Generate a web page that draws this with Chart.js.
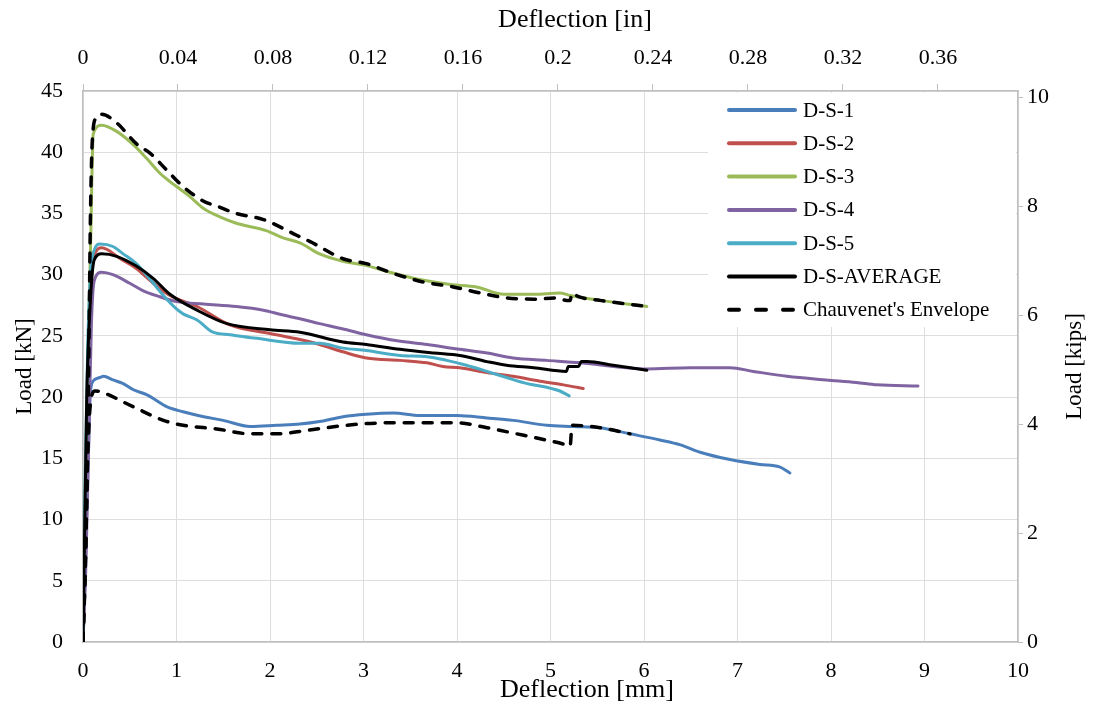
<!DOCTYPE html>
<html>
<head>
<meta charset="utf-8">
<script src="https://cdn.jsdelivr.net/npm/chart.js@4.4.1/dist/chart.umd.min.js"></script>
<style>
  html, body { margin: 0; padding: 0; background: #fff; }
  #wrap { width: 1094px; height: 713px; position: relative; }
</style>
</head>
<body>
<div id="wrap"><canvas id="chart"></canvas></div>
<script>
// Deflection [mm] / Load [kN]
const ds1X = [0, 0.03, 0.06, 0.08, 0.12, 0.18, 0.22, 0.32, 0.43, 0.54, 0.68, 0.9, 1.07, 1.29, 1.5, 1.79, 2.07, 2.32, 2.53, 2.78, 3.03, 3.32, 3.6, 4.0, 4.32, 4.6, 4.96, 5.24, 5.53, 5.85, 6.17, 6.39, 6.6, 6.92, 7.24, 7.45, 7.56];
const ds1Y = [0, 8, 16, 20.5, 21.4, 21.6, 21.7, 21.4, 21.1, 20.6, 20.2, 19.2, 18.8, 18.4, 18.1, 17.6, 17.7, 17.8, 18.0, 18.4, 18.6, 18.7, 18.5, 18.5, 18.3, 18.1, 17.7, 17.6, 17.5, 17.0, 16.5, 16.1, 15.5, 14.9, 14.5, 14.3, 13.8];

const ds2X = [0, 0.03, 0.05, 0.08, 0.12, 0.2, 0.4, 0.57, 0.75, 0.93, 1.22, 1.57, 2.0, 2.32, 2.53, 2.78, 3.03, 3.39, 3.68, 3.85, 4.03, 4.32, 4.6, 4.89, 5.14, 5.35];
const ds2Y = [0, 8, 18, 28, 31.5, 32.2, 31.3, 30.5, 29.3, 28.3, 27.4, 25.9, 25.2, 24.7, 24.3, 23.7, 23.2, 23.0, 22.8, 22.5, 22.4, 22.0, 21.7, 21.3, 21.0, 20.7];

const ds3X = [0, 0.02, 0.05, 0.08, 0.11, 0.2, 0.36, 0.54, 0.68, 0.82, 0.93, 1.0, 1.14, 1.29, 1.47, 1.64, 1.96, 2.14, 2.32, 2.53, 2.78, 3.0, 3.28, 3.6, 3.93, 4.21, 4.5, 4.82, 5.1, 5.21, 5.53, 6.03];
const ds3Y = [0, 10, 22, 32, 41.5, 42.2, 41.7, 40.6, 39.5, 38.3, 37.6, 37.2, 36.4, 35.4, 34.7, 34.2, 33.6, 33.0, 32.6, 31.7, 31.1, 30.8, 30.2, 29.6, 29.2, 29.0, 28.4, 28.4, 28.5, 28.3, 27.9, 27.4];

const ds4X = [0, 0.03, 0.06, 0.09, 0.12, 0.2, 0.32, 0.5, 0.64, 0.82, 1.0, 1.29, 1.64, 1.93, 2.14, 2.32, 2.53, 2.82, 3.03, 3.36, 3.68, 4.03, 4.32, 4.6, 4.96, 5.32, 6.03, 6.5, 6.92, 7.17, 7.53, 7.95, 8.27, 8.49, 8.93];
const ds4Y = [0, 6, 16, 26, 29.5, 30.2, 30.0, 29.3, 28.7, 28.2, 27.8, 27.6, 27.4, 27.1, 26.7, 26.4, 26.0, 25.5, 25.1, 24.6, 24.3, 23.9, 23.6, 23.2, 23.0, 22.8, 22.3, 22.4, 22.4, 22.1, 21.7, 21.4, 21.2, 21.0, 20.9];

const ds5X = [0, 0.02, 0.05, 0.08, 0.12, 0.18, 0.32, 0.43, 0.57, 0.72, 0.86, 1.0, 1.07, 1.22, 1.39, 1.57, 1.86, 2.32, 2.53, 2.78, 3.03, 3.39, 3.68, 3.89, 4.1, 4.32, 4.53, 4.75, 4.96, 5.1, 5.2];
const ds5Y = [0, 12, 24, 30, 32, 32.5, 32.3, 31.7, 30.9, 29.6, 28.3, 27.2, 26.8, 26.3, 25.3, 25.1, 24.8, 24.4, 24.4, 24.0, 23.8, 23.4, 23.3, 23.0, 22.6, 22.1, 21.6, 21.1, 20.8, 20.5, 20.1];

const avgX = [0, 0.01, 0.04, 0.08, 0.12, 0.2, 0.36, 0.57, 0.75, 0.93, 1.22, 1.54, 2.0, 2.32, 2.78, 3.03, 3.39, 3.75, 4.03, 4.32, 4.53, 4.82, 5.17, 5.19, 5.3, 5.33, 5.39, 5.67, 6.03];
const avgY = [0, 5, 20, 28, 31.2, 31.7, 31.5, 30.7, 29.7, 28.4, 27.1, 26.0, 25.5, 25.3, 24.5, 24.3, 23.9, 23.6, 23.4, 22.9, 22.6, 22.4, 22.1, 22.5, 22.5, 22.9, 22.9, 22.6, 22.2];

// Chauvenet's envelope: upper and lower bound
const envUpX = [0, 0.03, 0.06, 0.08, 0.1, 0.14, 0.2, 0.36, 0.57, 0.72, 0.9, 1.07, 1.29, 1.43, 1.64, 1.93, 2.29, 2.43, 2.78, 3.03, 3.32, 3.64, 3.96, 4.25, 4.53, 4.82, 5.07, 5.17, 5.21, 5.23, 5.3, 5.53, 6.03];
const envUpY = [0, 8, 22, 35, 41, 42.8, 43.1, 42.4, 40.7, 39.9, 38.5, 37.2, 36.0, 35.6, 35.0, 34.5, 33.2, 32.7, 31.3, 30.9, 30.1, 29.4, 29.0, 28.5, 28.1, 28.0, 28.1, 27.9, 27.9, 28.5, 28.2, 27.9, 27.4];
const envLoX = [0, 0.03, 0.05, 0.08, 0.13, 0.2, 0.54, 0.86, 1.07, 1.43, 1.79, 2.07, 2.32, 2.6, 2.96, 3.28, 3.68, 4.0, 4.32, 4.64, 4.89, 5.17, 5.21, 5.23, 5.53, 5.85];
const envLoY = [0, 8, 15, 19.5, 20.5, 20.4, 19.2, 18.1, 17.7, 17.4, 17.0, 17.0, 17.2, 17.5, 17.8, 17.9, 17.9, 17.9, 17.5, 17.0, 16.6, 16.1, 16.0, 17.7, 17.5, 17.0];

const xTicksMm = [0, 10];      // bottom axis range, step 1
const yTicksKn = [0, 45];      // left axis range, step 5
const MM_PER_IN = 25.4;
const KN_PER_KIP = 4.448;

const FONT = '"Liberation Serif", "Times New Roman", serif';

function pts(xs, ys) {
  return xs.map((x, i) => ({ x: x, y: ys[i] }));
}

function series(label, xs, ys, color, extra) {
  return Object.assign({
    label: label,
    data: pts(xs, ys),
    borderColor: color,
    backgroundColor: color,
    borderWidth: 3,
    pointRadius: 0,
    borderCapStyle: 'round',
    borderJoinStyle: 'round',
    cubicInterpolationMode: 'monotone',
    fill: false
  }, extra || {});
}

const datasets = [
  series('D-S-1', ds1X, ds1Y, '#4a7ebb'),
  series('D-S-2', ds2X, ds2Y, '#c0504d'),
  series('D-S-3', ds3X, ds3Y, '#9bbb59'),
  series('D-S-4', ds4X, ds4Y, '#8064a2'),
  series('D-S-5', ds5X, ds5Y, '#4bacc6'),
  series('D-S-AVERAGE', avgX, avgY, '#000000'),
  series("Chauvenet's Envelope", envUpX, envUpY, '#000000', { borderDash: [9, 10], borderWidth: 3.5 }),
  series("Chauvenet's Envelope", envLoX, envLoY, '#000000', { borderDash: [9, 10], borderWidth: 3.5, inLegend: false })
];
// later series sit on top, like the original
datasets.forEach((d, i) => { d.order = datasets.length - i; });

// legend in a white box inside the plot + axis titles (the right one reads bottom-up)
const boxLegend = {
  id: 'boxLegend',
  afterDatasetsDraw(chart) {
    const ctx = chart.ctx;
    ctx.save();
    ctx.fillStyle = '#fff';
    ctx.fillRect(708, 93, 308, 234);
    ctx.font = '21px ' + FONT;
    ctx.textBaseline = 'middle';
    ctx.lineCap = 'round';
    let y = 110;
    chart.data.datasets.forEach(ds => {
      if (ds.inLegend === false) return;
      ctx.strokeStyle = ds.borderColor;
      ctx.lineWidth = 4;
      ctx.setLineDash(ds.borderDash ? [10, 17] : []);
      ctx.beginPath();
      ctx.moveTo(729, y);
      ctx.lineTo(795, y);
      ctx.stroke();
      ctx.setLineDash([]);
      ctx.fillStyle = '#000';
      ctx.fillText(ds.label, 803, y + 1);
      y += 33.3;
    });
    ctx.restore();
  },
  afterDraw(chart) {
    const ctx = chart.ctx;
    const a = chart.chartArea;
    const midY = (a.top + a.bottom) / 2;
    ctx.save();
    ctx.fillStyle = '#000';
    ctx.textAlign = 'center';
    ctx.textBaseline = 'middle';
    ctx.font = '26px ' + FONT;
    ctx.fillText('Deflection [mm]', 587, 690);
    ctx.fillText('Deflection [in]', 575, 20);
    ctx.font = '23px ' + FONT;
    [[25, 'Load [kN]'], [1075, 'Load [kips]']].forEach(([x, t]) => {
      ctx.save();
      ctx.translate(x, midY);
      ctx.rotate(-Math.PI / 2);
      ctx.fillText(t, 0, 0);
      ctx.restore();
    });
    ctx.restore();
  }
};

const tickFont = { family: FONT, size: 22 };
const fmt = v => String(+v.toFixed(2));

new Chart(document.getElementById('chart'), {
  type: 'line',
  data: { datasets: datasets },
  options: {
    responsive: true,
    maintainAspectRatio: false,
    animation: false,
    layout: { padding: 0 },
    plugins: {
      legend: { display: false },
      tooltip: { enabled: false }
    },
    scales: {
      x: {
        type: 'linear',
        position: 'bottom',
        min: xTicksMm[0],
        max: xTicksMm[1],
        grid: { color: '#dedede', lineWidth: 1, drawTicks: false },
        border: { color: '#bfbfbf', width: 1.5 },
        ticks: { stepSize: 1, padding: 16, color: '#000', font: tickFont, maxRotation: 0, autoSkip: false, callback: fmt },
        afterFit(s) { s.height = 71; }
      },
      x2: {
        type: 'linear',
        position: 'top',
        min: xTicksMm[0] / MM_PER_IN,
        max: xTicksMm[1] / MM_PER_IN,
        grid: { drawOnChartArea: false, drawTicks: true, tickLength: 7, color: '#bfbfbf' },
        border: { color: '#bfbfbf', width: 1.5 },
        ticks: { stepSize: 0.04, includeBounds: false, padding: 13, color: '#000', font: tickFont, maxRotation: 0, autoSkip: false, callback: fmt },
        afterFit(s) { s.height = 91; }
      },
      y: {
        type: 'linear',
        position: 'left',
        min: yTicksKn[0],
        max: yTicksKn[1],
        grid: { color: '#dedede', lineWidth: 1, drawTicks: false },
        border: { color: '#bfbfbf', width: 1.5 },
        ticks: { stepSize: 5, padding: 20, color: '#000', font: tickFont, autoSkip: false, callback: fmt },
        afterFit(s) { s.width = 83; }
      },
      y2: {
        type: 'linear',
        position: 'right',
        min: yTicksKn[0] / KN_PER_KIP,
        max: yTicksKn[1] / KN_PER_KIP,
        grid: { drawOnChartArea: false, drawTicks: true, tickLength: 5, color: '#bfbfbf' },
        border: { color: '#bfbfbf', width: 1.5 },
        ticks: { stepSize: 2, includeBounds: false, padding: 4, color: '#000', font: tickFont, autoSkip: false, callback: fmt },
        afterFit(s) { s.width = 76; }
      }
    }
  },
  plugins: [boxLegend]
});
</script>
</body>
</html>
